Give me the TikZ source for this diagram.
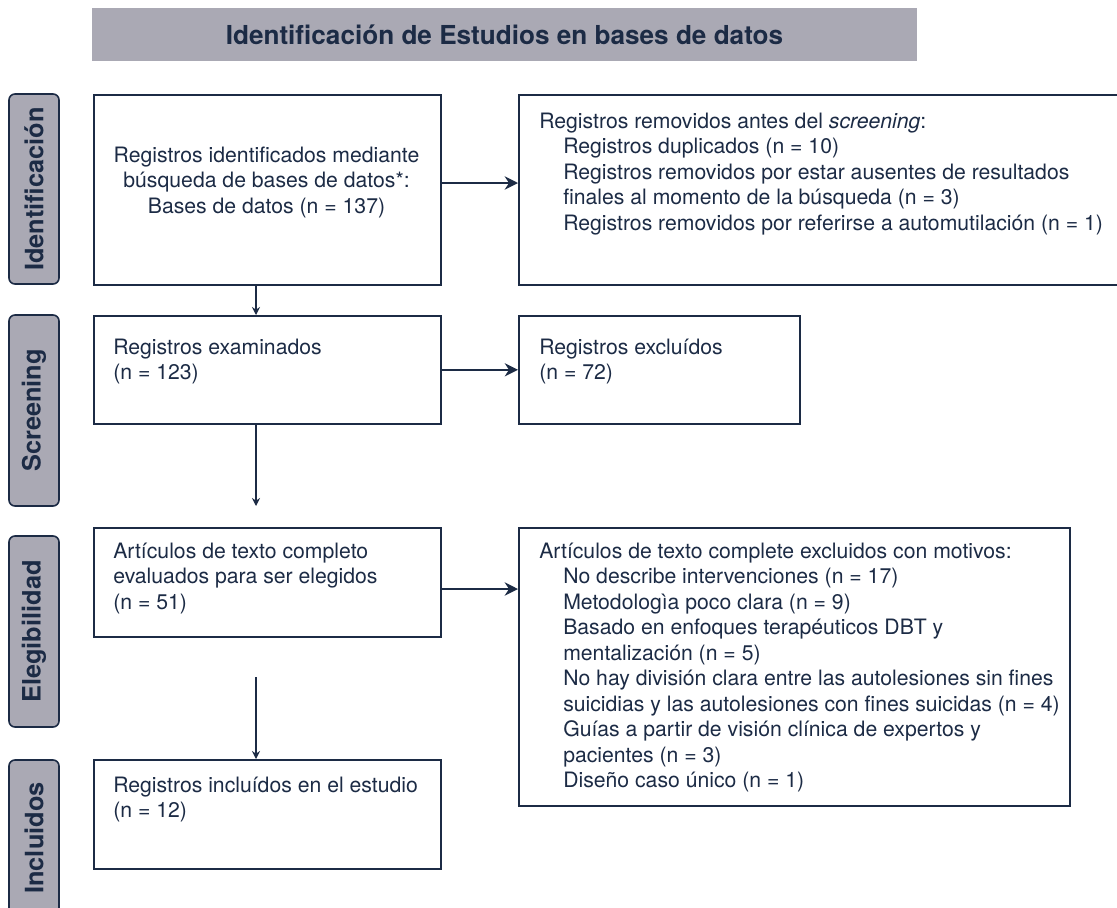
\documentclass[tikz,border=0pt]{standalone}
\usepackage{fontspec}
\setmainfont{TeX Gyre Heros}
\usetikzlibrary{arrows.meta}
\definecolor{navy}{HTML}{1C2B45}
\definecolor{bandgray}{HTML}{AAA9B4}
\begin{document}
\begin{tikzpicture}[x=0.75pt,y=-0.75pt,
  every node/.style={text=navy},
  box/.style={draw=navy,line width=1.2pt,anchor=north west,inner sep=0pt},
  side/.style={draw=navy,line width=1.2pt,fill=bandgray,rounded corners=4.5pt,rotate=90,
    minimum height=37.5pt,inner sep=0pt,font=\bfseries\fontsize{19}{22}\selectfont},
  txt/.style={anchor=base west,align=left,inner sep=0pt,font=\fontsize{15.9}{19.1}\selectfont},
  arr/.style={draw=navy,line width=1.2pt,-{Stealth[length=10pt,width=10pt]}},
  arrs/.style={draw=navy,line width=1pt,-{Stealth[length=6pt,width=6pt]}}]
\useasboundingbox (0,0) rectangle (1117,907);
\node[fill=bandgray,minimum width=618.75pt,minimum height=39.75pt,inner sep=0pt,
  font=\bfseries\fontsize{19.6}{23}\selectfont] (title) at (504.5,34.5) {Identificación de Estudios en bases de datos};
\node[side,minimum width=142.5pt] (lid) at (34,189) {Identificación};
\node[side,minimum width=143.25pt] (lscr) at (34,410.5) {Screening};
\node[side,minimum width=143.25pt] (leg) at (34,631.5) {Elegibilidad};
\node[side,minimum width=117pt] (linc) at (34,838) {Incluidos};
\node[box,minimum width=260.25pt,minimum height=142.5pt] (b1) at (93,94) {};
\node[box,minimum width=260.25pt,minimum height=81pt] (b2) at (93,315) {};
\node[box,minimum width=260.25pt,minimum height=81.75pt] (b3) at (93,527) {};
\node[box,minimum width=260.25pt,minimum height=81.75pt] (b4) at (93,759) {};
\node[box,minimum width=453pt,minimum height=142.5pt] (r1) at (518,94) {};
\node[box,minimum width=210.75pt,minimum height=81pt] (r2) at (518,315) {};
\node[box,minimum width=413.25pt,minimum height=208.5pt] (r3) at (518,527) {};
% text nodes sit on the baseline of their last line
\node[txt,anchor=base,align=center] (b1t) at (266.5,213) {Registros identificados mediante\\búsqueda de bases de datos*:\\Bases de datos (n = 137)};
\node[txt] (b2t) at (113,379.5) {Registros examinados\\(n = 123)};
\node[txt] (b3t) at (113,609) {Artículos de texto completo\\evaluados para ser elegidos\\(n = 51)};
\node[txt] (b4t) at (113,817.5) {Registros incluídos en el estudio\\(n = 12)};
\node[txt] (r1t) at (539,230) {Registros removidos antes del \textit{screening}:\\
  \hspace*{18pt}Registros duplicados (n = 10)\\
  \hspace*{18pt}Registros removidos por estar ausentes de resultados\\
  \hspace*{18pt}finales al momento de la búsqueda (n = 3)\\
  \hspace*{18pt}Registros removidos por referirse a automutilación (n = 1)};
\node[txt] (r2t) at (539,379.5) {Registros excluídos\\(n = 72)};
\node[txt] (r3t) at (539,787.5) {Artículos de texto complete excluidos con motivos:\\
  \hspace*{18pt}No describe intervenciones (n = 17)\\
  \hspace*{18pt}Metodologìa poco clara (n = 9)\\
  \hspace*{18pt}Basado en enfoques terapéuticos DBT y\\
  \hspace*{18pt}mentalización (n = 5)\\
  \hspace*{18pt}No hay división clara entre las autolesiones sin fines\\
  \hspace*{18pt}suicidias y las autolesiones con fines suicidas (n = 4)\\
  \hspace*{18pt}Guías a partir de visión clínica de expertos y\\
  \hspace*{18pt}pacientes (n = 3)\\
  \hspace*{18pt}Diseño caso único (n = 1)};
\coordinate (vx) at (256,0);
\coordinate (y1) at (0,183);
\coordinate (y3) at (0,589);
\coordinate (d1) at (256,506);
\coordinate (d2) at (256,677);
\draw[arr] (b1.east |- y1) -- (r1.west |- y1);
\draw[arr] (b2.east) -- (r2.west);
\draw[arr] (b3.east |- y3) -- (r3.west |- y3);
\draw[arrs] (b1.south -| vx) -- (b2.north -| vx);
\draw[arrs] (b2.south -| d1) -- (d1);
\draw[arrs] (d2) -- (b4.north -| d2);
\end{tikzpicture}
\end{document}
